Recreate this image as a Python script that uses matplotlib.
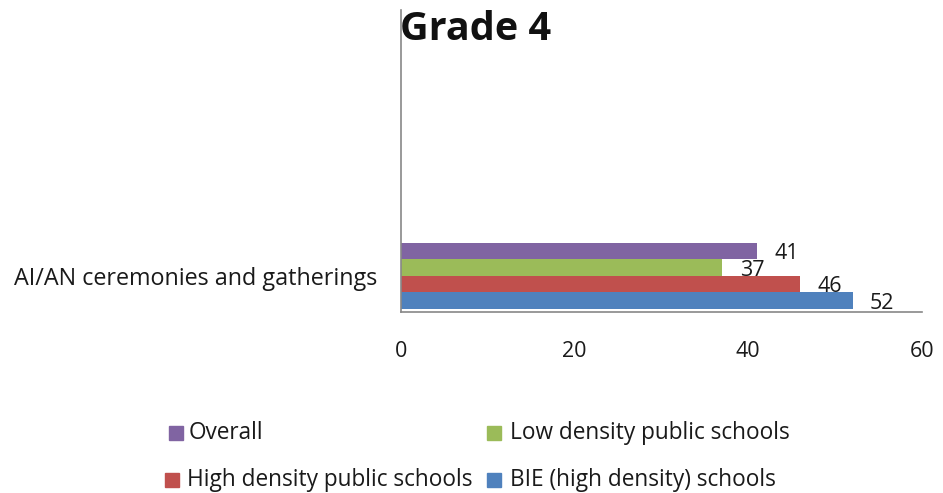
import matplotlib.pyplot as plt
from matplotlib.patches import Rectangle

plt.rcParams['font.family'] = ['Open Sans', 'DejaVu Sans']

category = "AI/AN ceremonies and gatherings"
series = ["Overall", "Low density public schools",
          "High density public schools", "BIE (high density) schools"]
values = [41, 37, 46, 52]
colors = ["#8064A2", "#9BBB59", "#C0504D", "#4F81BD"]

fig = plt.figure(figsize=(9.43, 4.93), dpi=100)
ax = fig.add_axes([0.4252, 0.367, 0.5525, 0.613])

# one category, four bars stacked top to bottom
bar_h = 1.0
offsets = [1.5, 0.5, -0.5, -1.5]
for off, v, c in zip(offsets, values, colors):
    ax.barh(off * bar_h, v, height=bar_h, color=c, edgecolor="none")
    ax.annotate(str(v), (v, off * bar_h), xytext=(12.5, -2),
                textcoords="offset points", ha="left", va="center",
                fontsize=15.5, color="#1a1a1a")

ax.set_xlim(0, 60)
ax.set_ylim(-2.2, 16.1)
ax.set_xticks([0, 20, 40, 60])
ax.tick_params(axis="x", length=0, pad=21, labelsize=15.5, colors="#1a1a1a")
ax.set_yticks([0])
ax.set_yticklabels([category])
ax.tick_params(axis="y", length=0, pad=17, labelsize=16.8, colors="#1a1a1a")
for s in ["top", "right"]:
    ax.spines[s].set_visible(False)
for s in ["left", "bottom"]:
    ax.spines[s].set_color("#888888")
    ax.spines[s].set_linewidth(1.2)

fig.text(400 / 943, 1 - 29 / 493, "Grade 4", fontsize=28.5, fontweight="bold",
         ha="left", va="center", color="#111111")

# legend laid out in two rows: square x, text x, row y (pixels)
square_x = [169, 487, 165, 487]
text_x = [189, 510, 187, 510]
row_y = [433, 433, 480, 480]
W, H = 943, 493
for sx, tx, py, name, c in zip(square_x, text_x, row_y, series, colors):
    fig.patches.append(Rectangle((sx / W, 1 - (py + 7) / H), 14 / W, 14 / H,
                                 transform=fig.transFigure, color=c))
    fig.text(tx / W, 1 - py / H, name, fontsize=16.3,
             ha="left", va="center", color="#1a1a1a")

fig.savefig("out.png", dpi=100)
